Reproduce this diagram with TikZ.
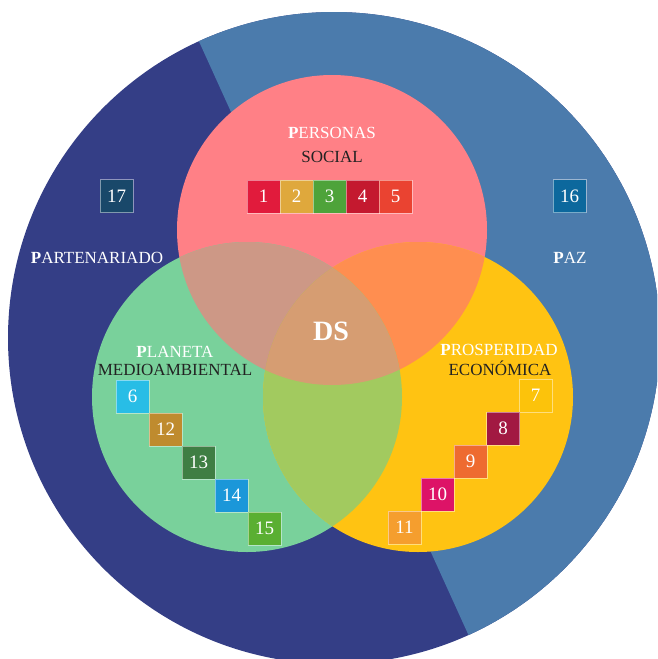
\documentclass[tikz,border=0pt]{standalone}
\usepackage{fontspec}
\setmainfont{Liberation Serif}
\definecolor{dblue}{HTML}{343E86}
\definecolor{lblue}{HTML}{4B7BAC}
\definecolor{cpink}{HTML}{FF8086}
\definecolor{cgreen}{HTML}{79D19B}
\definecolor{cyellow}{HTML}{FFC312}
\definecolor{cpg}{HTML}{CD9886}
\definecolor{cpy}{HTML}{FF8E50}
\definecolor{cgy}{HTML}{A2CA5F}
\definecolor{cmid}{HTML}{D69D72}
\definecolor{s1}{HTML}{E11B3C}
\definecolor{s2}{HTML}{DFA83C}
\definecolor{s3}{HTML}{4EA33A}
\definecolor{s4}{HTML}{C4192F}
\definecolor{s5}{HTML}{EA4331}
\definecolor{s6}{HTML}{28BDE6}
\definecolor{s7}{HTML}{FCC30B}
\definecolor{s8}{HTML}{A21942}
\definecolor{s9}{HTML}{EE6B30}
\definecolor{s10}{HTML}{DD1367}
\definecolor{s11}{HTML}{F59E2E}
\definecolor{s12}{HTML}{BF8B2E}
\definecolor{s13}{HTML}{3F7E44}
\definecolor{s14}{HTML}{1B97D9}
\definecolor{s15}{HTML}{5AAF32}
\definecolor{s16}{HTML}{0C689D}
\definecolor{s17}{HTML}{19486A}
\definecolor{darktxt}{HTML}{222222}
\tikzset{
  sdg/.style={minimum size=33pt, inner sep=0pt, draw=white, draw opacity=0.45, line width=0.8pt,
    text=white, font=\fontsize{19}{22}\selectfont},
  ttl/.style={text=white, font=\fontsize{17}{20}\selectfont, inner sep=0pt},
  sub/.style={text=darktxt, font=\fontsize{17}{20}\selectfont, inner sep=0pt}
}
\begin{document}
\begin{tikzpicture}[x=1pt,y=-1pt]
\useasboundingbox (0,0) rectangle (657,659);
\clip (0,0) rectangle (657,659);
% big circle
\fill[dblue] (334,338) circle[radius=326pt];
\begin{scope}
  \clip (334,338) circle[radius=326pt];
  \fill[lblue] (172,-18) -- (720,-18) -- (720,700) -- (498,700) -- cycle;
\end{scope}
% three circles
\fill[cpink] (332,230) circle[radius=155pt];
\fill[cgreen] (247,397) circle[radius=155pt];
\fill[cyellow] (418,397) circle[radius=155pt];
\begin{scope}
  \clip (332,230) circle[radius=155pt];
  \fill[cpg] (247,397) circle[radius=155pt];
  \fill[cpy] (418,397) circle[radius=155pt];
\end{scope}
\begin{scope}
  \clip (247,397) circle[radius=155pt];
  \fill[cgy] (418,397) circle[radius=155pt];
\end{scope}
\begin{scope}
  \clip (332,230) circle[radius=155pt];
  \clip (247,397) circle[radius=155pt];
  \fill[cmid] (418,397) circle[radius=155pt];
\end{scope}
% labels
\node[ttl] (per) at (332,133) {\textbf{P}ERSONAS};
\node[sub] (soc) at (332,157) {SOCIAL};
\node[ttl] (pla) at (175,352) {\textbf{P}LANETA};
\node[sub] (med) at (175,370) {MEDIOAMBIENTAL};
\node[ttl] (pro) at (499,350) {\textbf{P}ROSPERIDAD};
\node[sub] (eco) at (500,368) {ECONÓMICA};
\node[ttl] (par) at (97,258) {\textbf{P}ARTENARIADO};
\node[ttl] (paz) at (570,258) {\textbf{P}AZ};
\node[text=white, font=\fontsize{28}{30}\selectfont\bfseries, inner sep=0pt] (ds) at (331,331) {DS};
% SDG boxes
\node[sdg, fill=s1] (b1) at (263.5,196.5) {1};
\node[sdg, fill=s2] (b2) at (296.5,196.5) {2};
\node[sdg, fill=s3] (b3) at (329.5,196.5) {3};
\node[sdg, fill=s4] (b4) at (362.5,196.5) {4};
\node[sdg, fill=s5] (b5) at (395.5,196.5) {5};
\node[sdg, fill=s6] (b6) at (132.5,396.5) {6};
\node[sdg, fill=s12] (b12) at (165.5,429.5) {12};
\node[sdg, fill=s13] (b13) at (198.5,462.5) {13};
\node[sdg, fill=s14] (b14) at (231.5,495.5) {14};
\node[sdg, fill=s15] (b15) at (264.5,528.5) {15};
\node[sdg, fill=s7] (b7) at (535.5,395.5) {7};
\node[sdg, fill=s8] (b8) at (503,428.5) {8};
\node[sdg, fill=s9] (b9) at (470.5,461.5) {9};
\node[sdg, fill=s10] (b10) at (437.5,494.5) {10};
\node[sdg, fill=s11] (b11) at (404.5,527.5) {11};
\node[sdg, fill=s17] (b17) at (116.5,196) {17};
\node[sdg, fill=s16] (b16) at (569.5,196) {16};
\end{tikzpicture}
\end{document}
